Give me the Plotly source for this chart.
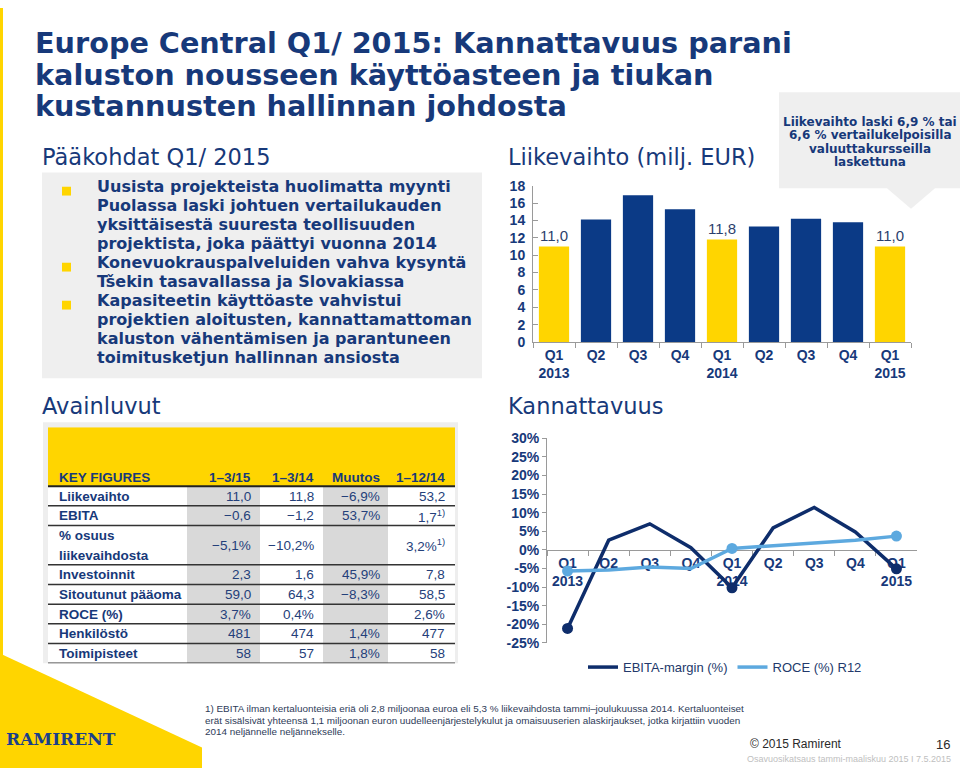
import plotly.graph_objects as go

W, H = 960, 776

# ---------------- data ----------------
title_lines = [
    "Europe Central Q1/ 2015: Kannattavuus parani",
    "kaluston nousseen käyttöasteen ja tiukan",
    "kustannusten hallinnan johdosta",
]
section_left_top = "Pääkohdat Q1/ 2015"
section_right_top = "Liikevaihto (milj. EUR)"
section_left_bottom = "Avainluvut"
section_right_bottom = "Kannattavuus"

bullets = [
    ["Uusista projekteista huolimatta myynti",
     "Puolassa laski johtuen vertailukauden",
     "yksittäisestä suuresta teollisuuden",
     "projektista, joka päättyi vuonna 2014"],
    ["Konevuokrauspalveluiden vahva kysyntä",
     "Tšekin tasavallassa ja Slovakiassa"],
    ["Kapasiteetin käyttöaste vahvistui",
     "projektien aloitusten, kannattamattoman",
     "kaluston vähentämisen ja parantuneen",
     "toimitusketjun hallinnan ansiosta"],
]
note_lines = ["Liikevaihto laski 6,9 % tai", "6,6 % vertailukelpoisilla",
              "valuuttakursseilla", "laskettuna"]

periods = ["2013 Q1", "2013 Q2", "2013 Q3", "2013 Q4", "2014 Q1",
           "2014 Q2", "2014 Q3", "2014 Q4", "2015 Q1"]
period_labels = ["Q1<br>2013", "Q2", "Q3", "Q4", "Q1<br>2014",
                 "Q2", "Q3", "Q4", "Q1<br>2015"]
revenue = [11.0, 14.1, 16.9, 15.3, 11.8, 13.3, 14.2, 13.8, 11.0]
highlight = [True, False, False, False, True, False, False, False, True]
revenue_ticks = [0, 2, 4, 6, 8, 10, 12, 14, 16, 18]

ebita_margin = [-21.1, 2.6, 7.0, 0.6, -10.2, 5.9, 11.4, 4.8, -5.1]
roce_r12 = [-5.7, -5.4, -4.6, -5.0, 0.4, 1.1, 1.8, 2.6, 3.7]
margin_ticks = [-25, -20, -15, -10, -5, 0, 5, 10, 15, 20, 25, 30]
series_names = ["EBITA-margin (%)", "ROCE (%) R12"]

table_header = ["KEY FIGURES", "1–3/15", "1–3/14", "Muutos", "1–12/14"]
table_labels = ["Liikevaihto", "EBITA", "% osuus<br>liikevaihdosta", "Investoinnit",
                "Sitoutunut pääoma", "ROCE (%)", "Henkilöstö", "Toimipisteet"]
col_q1_15 = ["11,0", "−0,6", "−5,1%", "2,3", "59,0", "3,7%", "481", "58"]
col_q1_14 = ["11,8", "−1,2", "−10,2%", "1,6", "64,3", "0,4%", "474", "57"]
col_change = ["−6,9%", "53,7%", "", "45,9%", "−8,3%", "", "1,4%", "1,8%"]
col_fy14 = ["53,2", "1,7<sup>1)</sup>", "3,2%<sup>1)</sup>", "7,8", "58,5",
            "2,6%", "477", "58"]
row_units = [1, 1, 2, 1, 1, 1, 1, 1]
header_units = 3

footnote_lines = [
    "1) EBITA ilman kertaluonteisia eriä oli 2,8 miljoonaa euroa eli 5,3 % liikevaihdosta tammi–joulukuussa 2014. Kertaluonteiset",
    "erät sisälsivät yhteensä 1,1 miljoonan euron uudelleenjärjestelykulut ja omaisuuserien alaskirjaukset, jotka kirjattiin vuoden",
    "2014 neljännelle neljännekselle.",
]
copyright_text = "© 2015 Ramirent"
page_number = "16"
footer_text = "Osavuosikatsaus tammi-maaliskuu 2015 I 7.5.2015"
logo_text = "RAMIRENT"

# ---------------- styles ----------------
NAVY = "#17397A"
BAR_NAVY = "#0B3A86"
YELLOW = "#FFD500"
LINE_DARK = "#0E2D6B"
LINE_LIGHT = "#5DA9DF"
BOX_GRAY = "#EFEFEF"
COL_GRAY = "#D9D9D9"
AXIS_GRAY = "#9A9A9A"
FONT = "Liberation Sans, Arial, sans-serif"
WIDE = "DejaVu Sans, Verdana, sans-serif"


def px(x):
    return x / W


def py(y):
    return 1 - y / H


fig = go.Figure()

# ---------------- bar chart ----------------
bar_text = [f"{v:.1f}".replace(".", ",") if h else "" for v, h in zip(revenue, highlight)]
fig.add_trace(go.Bar(
    x=periods, y=revenue,
    marker=dict(color=[YELLOW if h else BAR_NAVY for h in highlight], line=dict(width=0)),
    width=0.72,
    text=bar_text, textposition="outside", cliponaxis=False,
    textfont=dict(family=FONT, size=15, color="#2B3F6C"),
    showlegend=False, hoverinfo="skip",
    xaxis="x", yaxis="y",
))

# ---------------- line chart ----------------
fig.add_trace(go.Scatter(
    x=periods, y=ebita_margin, mode="lines", name=series_names[0],
    line=dict(color=LINE_DARK, width=3.5), xaxis="x2", yaxis="y2",
))
fig.add_trace(go.Scatter(
    x=periods, y=roce_r12, mode="lines", name=series_names[1],
    line=dict(color=LINE_LIGHT, width=3.5), xaxis="x2", yaxis="y2",
))
q1_x = [p for p, h in zip(periods, highlight) if h]
fig.add_trace(go.Scatter(
    x=q1_x, y=[v for v, h in zip(ebita_margin, highlight) if h], mode="markers",
    marker=dict(color=LINE_DARK, size=11), showlegend=False, xaxis="x2", yaxis="y2",
))
fig.add_trace(go.Scatter(
    x=q1_x, y=[v for v, h in zip(roce_r12, highlight) if h], mode="markers",
    marker=dict(color=LINE_LIGHT, size=11), showlegend=False, xaxis="x2", yaxis="y2",
))

bar_dom_x = [px(533), px(911)]
bar_dom_y = [py(341), py(181.5)]
line_dom_x = [px(547), px(917)]
line_dom_y = [py(648.3), py(439.3)]
m_lo, m_hi = margin_ticks[0], margin_ticks[-1]
zero_pos = line_dom_y[0] + (0 - m_lo) / (m_hi - m_lo) * (line_dom_y[1] - line_dom_y[0])

tick_font = dict(family=FONT, size=14, color=NAVY, weight="bold")

fig.update_layout(
    width=W, height=H, margin=dict(l=0, r=0, t=0, b=0),
    paper_bgcolor="white", plot_bgcolor="rgba(0,0,0,0)",
    font=dict(family=FONT, color=NAVY),
    bargap=0.28,
    xaxis=dict(domain=bar_dom_x, type="category", categoryorder="array", categoryarray=periods,
               tickvals=periods, ticktext=period_labels, tickson="boundaries",
               ticks="outside", ticklen=5, tickcolor=AXIS_GRAY, showline=True, linecolor=AXIS_GRAY,
               showgrid=False, tickfont=tick_font, anchor="y", fixedrange=True),
    yaxis=dict(domain=bar_dom_y, range=[revenue_ticks[0], revenue_ticks[-1]], tickvals=revenue_ticks,
               ticks="inside", ticklen=5, tickcolor=AXIS_GRAY, showline=True, linecolor=AXIS_GRAY,
               showgrid=False, zeroline=False, tickfont=tick_font, ticklabelstandoff=4,
               anchor="x", fixedrange=True),
    xaxis2=dict(domain=line_dom_x, type="category", categoryorder="array", categoryarray=periods,
                tickvals=periods, ticktext=period_labels, tickson="boundaries",
                ticks="outside", ticklen=5, tickcolor=AXIS_GRAY, showline=True, linecolor=AXIS_GRAY,
                showgrid=False, tickfont=tick_font, anchor="free", position=zero_pos,
                layer="below traces", range=[-0.5, len(periods) - 0.5], fixedrange=True),
    yaxis2=dict(domain=line_dom_y, range=[m_lo, m_hi], tickvals=margin_ticks,
                ticktext=[f"{v}%" for v in margin_ticks],
                ticks="outside", ticklen=4, tickcolor=AXIS_GRAY, showline=True, linecolor=AXIS_GRAY,
                showgrid=False, zeroline=False, tickfont=tick_font, anchor="x2", fixedrange=True),
    xaxis3=dict(domain=[px(48), px(455)], range=[48, 455], visible=False, anchor="y3",
                fixedrange=True),
    yaxis3=dict(domain=[py(669), py(428)], range=[header_units + sum(row_units), 0],
                visible=False, anchor="x3", fixedrange=True),
    legend=dict(orientation="h", x=px(583), y=py(673), xanchor="left", yanchor="middle",
                font=dict(family=FONT, size=13, color="#23396B"), itemwidth=30,
                bgcolor="rgba(0,0,0,0)", traceorder="normal"),
)

shapes = []
annotations = []

# left yellow stripe and bottom-left yellow shape
shapes.append(dict(type="rect", xref="paper", yref="paper", x0=0, x1=px(3), y0=0, y1=1,
                   fillcolor=YELLOW, line=dict(width=0), layer="below"))
shapes.append(dict(type="path", xref="paper", yref="paper",
                   path=f"M 0 {py(659)} L {px(202)} {py(755)} L {px(202)} {py(776)} L 0 {py(776)} Z",
                   fillcolor=YELLOW, line=dict(width=0), layer="below"))

# title
for i, t in enumerate(title_lines):
    annotations.append(dict(x=px(33), y=py(36 + 32 * i), xref="paper", yref="paper", text=t,
                            showarrow=False, xanchor="left", yanchor="middle",
                            font=dict(family=WIDE, size=28.7, color=NAVY, weight="bold")))

# section headings
for text, x, y in [(section_left_top, 40, 152), (section_right_top, 506, 152),
                   (section_left_bottom, 40, 406), (section_right_bottom, 506, 406)]:
    annotations.append(dict(x=px(x), y=py(y), xref="paper", yref="paper", text=text,
                            showarrow=False, xanchor="left", yanchor="middle",
                            font=dict(family=WIDE, size=22.5, color=NAVY)))

# bullet box
shapes.append(dict(type="rect", xref="paper", yref="paper", x0=px(42), x1=px(482),
                   y0=py(378), y1=py(168), fillcolor=BOX_GRAY, line=dict(width=0), layer="below"))
line_i = 0
for group in bullets:
    yc = 182.5 + 19.4 * line_i
    shapes.append(dict(type="rect", xref="paper", yref="paper", x0=px(62), x1=px(71),
                       y0=py(yc + 9), y1=py(yc), fillcolor=YELLOW, line=dict(width=0)))
    for t in group:
        annotations.append(dict(x=px(95), y=py(182.5 + 19.4 * line_i), xref="paper", yref="paper",
                                text=t, showarrow=False, xanchor="left", yanchor="middle",
                                font=dict(family=WIDE, size=16, color=NAVY, weight="bold")))
        line_i += 1

# note box with pointer
shapes.append(dict(type="path", xref="paper", yref="paper",
                   path=(f"M {px(779)} {py(86)} L {px(960)} {py(86)} L {px(960)} {py(184)} "
                         f"L {px(935)} {py(184)} L {px(911)} {py(205)} L {px(887)} {py(184)} "
                         f"L {px(779)} {py(184)} Z"),
                   fillcolor=BOX_GRAY, line=dict(width=0), layer="below"))
for i, t in enumerate(note_lines):
    annotations.append(dict(x=px(870), y=py(116 + 13.8 * i), xref="paper", yref="paper", text=t,
                            showarrow=False, xanchor="center", yanchor="middle",
                            font=dict(family=WIDE, size=12, color=NAVY, weight="bold")))

# ---------------- table ----------------
n_units = header_units + sum(row_units)
shapes.append(dict(type="rect", xref="paper", yref="paper", x0=px(43), x1=px(458),
                   y0=py(669), y1=py(423), fillcolor="#EEEEEE", line=dict(width=0), layer="below"))
shapes.append(dict(type="rect", xref="x3", yref="y3", x0=48, x1=455, y0=0, y1=header_units,
                   fillcolor=YELLOW, line=dict(width=0), layer="below"))
shapes.append(dict(type="rect", xref="x3", yref="y3", x0=48, x1=455, y0=header_units, y1=n_units,
                   fillcolor="white", line=dict(width=0), layer="below"))
for x0, x1 in [(187, 260), (323, 388)]:
    shapes.append(dict(type="rect", xref="x3", yref="y3", x0=x0, x1=x1, y0=header_units, y1=n_units,
                       fillcolor=COL_GRAY, line=dict(width=0), layer="below"))

col_right = [253, 316, 382, 447]
hdr_y = header_units - 0.45
annotations.append(dict(x=57, y=hdr_y, xref="x3", yref="y3", text=table_header[0], showarrow=False,
                        xanchor="left", yanchor="middle",
                        font=dict(family=FONT, size=13.5, color=NAVY, weight="bold")))
for xr, t in zip(col_right, table_header[1:]):
    annotations.append(dict(x=xr, y=hdr_y, xref="x3", yref="y3", text=t, showarrow=False,
                            xanchor="right", yanchor="middle",
                            font=dict(family=FONT, size=13.5, color=NAVY, weight="bold")))

top = header_units
shapes.append(dict(type="line", xref="x3", yref="y3", x0=48, x1=455, y0=top, y1=top,
                   line=dict(color="#222222", width=2)))
columns = [col_q1_15, col_q1_14, col_change, col_fy14]
for r, (label, units) in enumerate(zip(table_labels, row_units)):
    center = top + units / 2
    parts = label.split("<br>")
    for k, part in enumerate(parts):
        yk = center + (k - (len(parts) - 1) / 2)
        annotations.append(dict(x=57, y=yk, xref="x3", yref="y3", text=part, showarrow=False,
                                xanchor="left", yanchor="middle",
                                font=dict(family=FONT, size=13.5, color=NAVY, weight="bold")))
    for xr, col in zip(col_right, columns):
        if col[r]:
            annotations.append(dict(x=xr, y=center, xref="x3", yref="y3", text=col[r],
                                    showarrow=False, xanchor="right", yanchor="middle",
                                    font=dict(family=FONT, size=13.5, color="#24407A")))
    top += units
    shapes.append(dict(type="line", xref="x3", yref="y3", x0=48, x1=455, y0=top, y1=top,
                       line=dict(color="#333333", width=1.5)))

# ---------------- footer ----------------
annotations.append(dict(x=px(4), y=py(746), xref="paper", yref="paper", text=logo_text,
                        showarrow=False, xanchor="left", yanchor="middle",
                        font=dict(family="DejaVu Serif, serif", size=17, color="#1B3F8B",
                                  weight="bold")))
for i, t in enumerate(footnote_lines):
    annotations.append(dict(x=px(203), y=py(715 + 12 * i), xref="paper", yref="paper", text=t,
                            showarrow=False, xanchor="left", yanchor="middle",
                            font=dict(family=FONT, size=9.9, color="#2E3B58")))
annotations.append(dict(x=px(748), y=py(752), xref="paper", yref="paper", text=copyright_text,
                        showarrow=False, xanchor="left", yanchor="middle",
                        font=dict(family=FONT, size=12, color="#2A2A2A")))
annotations.append(dict(x=px(952), y=py(752), xref="paper", yref="paper", text=page_number,
                        showarrow=False, xanchor="right", yanchor="middle",
                        font=dict(family=FONT, size=13, color="#2A2A2A")))
annotations.append(dict(x=px(953), y=py(767), xref="paper", yref="paper", text=footer_text,
                        showarrow=False, xanchor="right", yanchor="middle",
                        font=dict(family=FONT, size=9, color="#C0C0C0")))

fig.update_layout(shapes=shapes, annotations=annotations)
fig.write_html(
    "out.html",
    config={"displayModeBar": False},
    post_script="document.body.style.margin='0';document.body.style.overflow='hidden';",
)
